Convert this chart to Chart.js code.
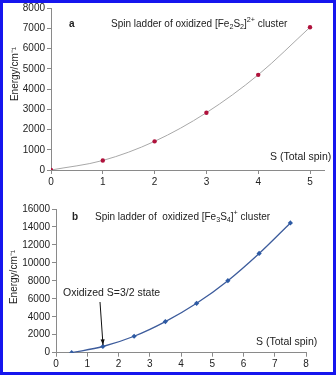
<!DOCTYPE html>
<html><head><meta charset="utf-8">
<script src="https://cdn.jsdelivr.net/npm/chart.js@4/dist/chart.umd.min.js"></script>
<style>
html,body{margin:0;padding:0;background:#fff;width:336px;height:375px;overflow:hidden}
#wa{position:absolute;left:0;top:0;width:336px;height:190px}
#wb{position:absolute;left:0;top:190px;width:336px;height:185px}
#frame{position:absolute;left:0;top:0;width:330px;height:369px;border:3px solid #1616ee;pointer-events:none}
</style></head><body>
<div id="wa"><canvas id="a" width="336" height="190"></canvas></div>
<div id="wb"><canvas id="b" width="336" height="185"></canvas></div>
<div id="frame"></div>
<script>
// ---- data ----
const spinA = [0, 1, 2, 3, 4, 5];
const energyA = [0, 470, 1415, 2830, 4700, 7050];
const spinB = [0.5, 1.5, 2.5, 3.5, 4.5, 5.5, 6.5, 7.5];
const energyB = [0, 690, 1830, 3460, 5500, 8020, 11050, 14450];
const yTitle = 'Energy/cm\u207B\u00B9';
const xTitle = 'S (Total spin)';
const titleA = [['Spin ladder of oxidized [Fe','n'],['2','sub'],['S','n'],['2','sub'],[']','n'],['2+','sup'],[' cluster','n']];
const titleB = [['Spin ladder of  oxidized [Fe','n'],['3','sub'],['S','n'],['4','sub'],[']','n'],['+','sup'],[' cluster','n']];
const noteB = 'Oxidized S=3/2 state';

const FONT = 'Arial, "Liberation Sans", sans-serif';
const TXT = '#222';

function rich(ctx, x, y, parts, size) {
  ctx.save();
  ctx.textBaseline = 'middle';
  ctx.textAlign = 'left';
  ctx.fillStyle = TXT;
  for (const [t, m] of parts) {
    let s = size, dy = 0;
    if (m === 'sub') { s = size * 0.72; dy = 3; }
    if (m === 'sup') { s = size * 0.72; dy = -4; }
    ctx.font = s + 'px ' + FONT;
    ctx.fillText(t, x, y + dy);
    x += ctx.measureText(t).width;
  }
  ctx.restore();
}
function text(ctx, t, x, y, size, opts) {
  opts = opts || {};
  ctx.save();
  ctx.font = (opts.bold ? 'bold ' : '') + size + 'px ' + FONT;
  ctx.fillStyle = TXT;
  ctx.textBaseline = 'middle';
  ctx.textAlign = opts.align || 'left';
  ctx.translate(x, y);
  if (opts.rot) ctx.rotate(opts.rot);
  ctx.fillText(t, 0, 0);
  ctx.restore();
}

function scales(xmin, xmax, ymax, ystep, yw, xh) {
  const common = {
    grid: { drawOnChartArea: false, drawTicks: true, tickLength: 4, color: '#8a8a8a' },
    border: { display: true, color: '#8a8a8a', width: 1 },
    ticks: { color: TXT, font: { family: FONT, size: 10 }, padding: 2, callback: v => String(v) }
  };
  return {
    x: Object.assign({}, common, {
      type: 'linear', min: xmin, max: xmax,
      ticks: Object.assign({}, common.ticks, { stepSize: 1, includeBounds: false, maxRotation: 0 }),
      afterFit: s => { s.height = xh; }
    }),
    y: Object.assign({}, common, {
      type: 'linear', min: 0, max: ymax,
      ticks: Object.assign({}, common.ticks, { stepSize: ystep }),
      afterFit: s => { s.width = yw; }
    })
  };
}

new Chart(document.getElementById('a'), {
  type: 'scatter',
  data: { datasets: [{
    data: spinA.map((s, i) => ({ x: s, y: energyA[i] })),
    showLine: true, cubicInterpolationMode: 'monotone',
    borderColor: '#a8a8a8', borderWidth: 1,
    pointRadius: 2.2, pointBackgroundColor: '#b0123c', pointBorderColor: '#b0123c', pointBorderWidth: 0
  }]},
  options: {
    responsive: false, animation: false, events: [],
    layout: { padding: { left: 0, top: 8, right: 12, bottom: 0 } },
    plugins: { legend: { display: false }, tooltip: { enabled: false } },
    scales: scales(0, 5.27, 8000, 1000, 51, 20)
  },
  plugins: [{ id: 'annA', afterDraw(c) {
    const ctx = c.ctx;
    text(ctx, 'a', 69, 24, 10, { bold: true });
    rich(ctx, 111, 24, titleA, 10);
    text(ctx, xTitle, 270, 157, 10.5);
    text(ctx, yTitle, 15, 74, 10, { rot: -Math.PI / 2, align: 'center' });
  }}]
});

new Chart(document.getElementById('b'), {
  type: 'scatter',
  data: { datasets: [{
    data: spinB.map((s, i) => ({ x: s, y: energyB[i] })),
    showLine: true, cubicInterpolationMode: 'monotone',
    borderColor: '#3d5c9c', borderWidth: 1.3,
    pointStyle: 'rectRot', pointRadius: 2.6, pointBackgroundColor: '#2d5aa4', pointBorderColor: '#2d5aa4', pointBorderWidth: 0
  }]},
  options: {
    responsive: false, animation: false, events: [],
    layout: { padding: { left: 0, top: 19, right: 30, bottom: 0 } },
    plugins: { legend: { display: false }, tooltip: { enabled: false } },
    scales: scales(0, 8, 16000, 2000, 56, 22.3)
  },
  plugins: [{ id: 'annB', afterDraw(c) {
    const ctx = c.ctx;
    text(ctx, 'b', 72, 27, 10, { bold: true });
    rich(ctx, 95, 27, titleB, 10);
    text(ctx, xTitle, 256, 152, 10.5);
    text(ctx, noteB, 63, 103, 10.5);
    text(ctx, yTitle, 14, 87, 10, { rot: -Math.PI / 2, align: 'center' });
    // arrow
    const x1 = 100, y1 = 112, x2 = 103, y2 = 155;
    ctx.save();
    ctx.strokeStyle = '#111'; ctx.fillStyle = '#111'; ctx.lineWidth = 1;
    ctx.beginPath(); ctx.moveTo(x1, y1); ctx.lineTo(x2, y2); ctx.stroke();
    const ang = Math.atan2(y2 - y1, x2 - x1);
    ctx.beginPath();
    ctx.moveTo(x2, y2);
    ctx.lineTo(x2 - 6 * Math.cos(ang - 0.35), y2 - 6 * Math.sin(ang - 0.35));
    ctx.lineTo(x2 - 6 * Math.cos(ang + 0.35), y2 - 6 * Math.sin(ang + 0.35));
    ctx.closePath(); ctx.fill();
    ctx.restore();
  }}]
});
</script>
</body></html>
